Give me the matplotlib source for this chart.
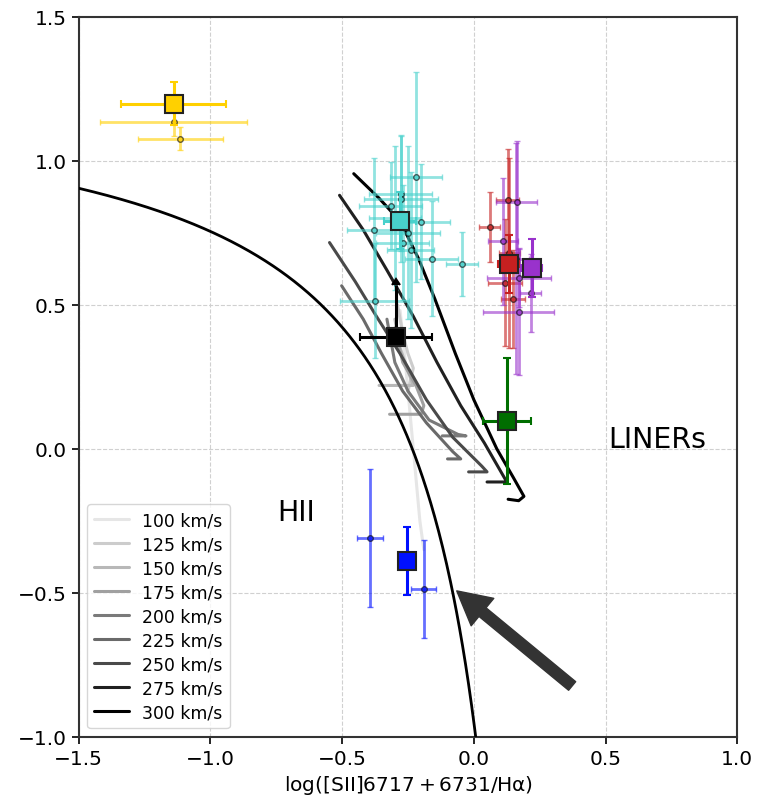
import numpy as np
import matplotlib
matplotlib.use("Agg")
import matplotlib.pyplot as plt

# ---------------- data ----------------
# group means (square markers): x, y, xerr, yerr
grp_names = ["yellow", "cyan", "red", "purple", "green", "blue", "black"]
grp_colors = ["#ffd000", "#48d1cc", "#c62020", "#9932cc", "#006e00", "#0010ff", "#000000"]
grp_x = [-1.14, -0.281, 0.133, 0.22, 0.125, -0.255, -0.297]
grp_y = [1.198, 0.792, 0.642, 0.628, 0.097, -0.389, 0.389]
grp_xerr = [0.20, 0.06, 0.04, 0.04, 0.09, 0.03, 0.137]
grp_yerr = [0.075, 0.10, 0.10, 0.10, 0.22, 0.118, 0.18]

# individual points: x, y, xerr, yerr
yel_x = [-1.14, -1.114]
yel_y = [1.135, 1.076]
yel_xerr = [0.28, 0.16]
yel_yerr = [0.05, 0.04]

cya_x = [-0.22, -0.278, -0.278, -0.316, -0.38, -0.20, -0.27, -0.16, -0.045, -0.377, -0.30, -0.25, -0.24]
cya_y = [0.944, 0.885, 0.868, 0.844, 0.76, 0.788, 0.715, 0.66, 0.642, 0.514, 0.80, 0.75, 0.69]
cya_xerr = [0.10, 0.12, 0.14, 0.12, 0.10, 0.11, 0.10, 0.10, 0.06, 0.13, 0.10, 0.12, 0.09]
cya_yerr = [0.365, 0.20, 0.22, 0.15, 0.25, 0.20, 0.20, 0.20, 0.11, 0.20, 0.25, 0.30, 0.27]

red_x = [0.128, 0.06, 0.118, 0.148, 0.135]
red_y = [0.862, 0.77, 0.576, 0.52, 0.68]
red_xerr = [0.045, 0.04, 0.063, 0.045, 0.04]
red_yerr = [0.18, 0.12, 0.22, 0.17, 0.33]

pur_x = [0.163, 0.11, 0.171, 0.216, 0.171, 0.16]
pur_y = [0.858, 0.72, 0.593, 0.542, 0.476, 0.66]
pur_xerr = [0.078, 0.057, 0.12, 0.04, 0.135, 0.05]
pur_yerr = [0.21, 0.22, 0.10, 0.135, 0.22, 0.40]

blu_x = [-0.395, -0.19]
blu_y = [-0.31, -0.486]
blu_xerr = [0.05, 0.048]
blu_yerr = [0.24, 0.17]

# shock model tracks (one per velocity)
vel_labels = ["100 km/s", "125 km/s", "150 km/s", "175 km/s", "200 km/s",
              "225 km/s", "250 km/s", "275 km/s", "300 km/s"]
vel_colors = ["#e6e6e6", "#cccccc", "#b8b8b8", "#a0a0a0", "#7a7a7a",
              "#6a6a6a", "#4a4a4a", "#202020", "#000000"]
trk_x = [
    [-0.28, -0.26, -0.24, -0.22, -0.205, -0.19],
    [-0.29, -0.27, -0.25, -0.23, -0.24, -0.25],
    [-0.30, -0.28, -0.25, -0.23, -0.29, -0.36],
    [-0.30, -0.27, -0.22, -0.19, -0.20, -0.32],
    [-0.33, -0.30, -0.25, -0.17, -0.06, -0.03, -0.12],
    [-0.502, -0.42, -0.35, -0.27, -0.18, -0.08, -0.05, -0.10],
    [-0.548, -0.45, -0.37, -0.28, -0.18, -0.08, 0.03, 0.05, -0.02],
    [-0.51, -0.42, -0.33, -0.23, -0.14, -0.05, 0.04, 0.125, 0.05],
    [-0.456, -0.36, -0.28, -0.21, -0.148, -0.07, 0.0, 0.087, 0.15, 0.19, 0.17, 0.13],
]
trk_y = [
    [0.48, 0.30, 0.10, -0.10, -0.25, -0.35],
    [0.50, 0.40, 0.33, 0.28, 0.24, 0.20],
    [0.45, 0.35, 0.27, 0.22, 0.22, 0.22],
    [0.42, 0.30, 0.22, 0.15, 0.12, 0.12],
    [0.45, 0.30, 0.20, 0.10, 0.05, 0.045, 0.045],
    [0.566, 0.45, 0.33, 0.20, 0.09, -0.01, -0.035, -0.035],
    [0.716, 0.58, 0.46, 0.33, 0.17, 0.04, -0.06, -0.08, -0.08],
    [0.88, 0.76, 0.62, 0.46, 0.30, 0.15, 0.02, -0.115, -0.115],
    [0.955, 0.87, 0.79, 0.66, 0.52, 0.33, 0.17, 0.0, -0.10, -0.165, -0.18, -0.175],
]

# ---------------- figure ----------------
fig = plt.figure(figsize=(7.57, 8.03), dpi=100)
ax = fig.add_axes([0.104, 0.081, 0.870, 0.897])

ax.grid(True, ls="--", color="#d0d0d0", lw=0.8)
ax.set_axisbelow(True)

# Kewley line
kx = np.linspace(-1.5, 0.01, 400)
ky = 0.72 / (kx - 0.32) + 1.30
ax.plot(kx, ky, color="black", lw=2, zorder=3)

# shock model tracks
for xs, ys, c, lab in zip(trk_x, trk_y, vel_colors, vel_labels):
    ax.plot(xs, ys, color=c, lw=2.2, label=lab, zorder=2, solid_capstyle="round")

def indiv(xs, ys, xe, ye, c):
    ax.errorbar(xs, ys, xerr=xe, yerr=ye, fmt="o", color=c, ecolor=c, alpha=0.6,
                ms=4, mfc=c, mec="black", capsize=2, elinewidth=2, zorder=4)

indiv(yel_x, yel_y, yel_xerr, yel_yerr, grp_colors[0])
indiv(cya_x, cya_y, cya_xerr, cya_yerr, grp_colors[1])
indiv(red_x, red_y, red_xerr, red_yerr, grp_colors[2])
indiv(pur_x, pur_y, pur_xerr, pur_yerr, grp_colors[3])
indiv(blu_x, blu_y, blu_xerr, blu_yerr, grp_colors[5])

for i, name in enumerate(grp_names):
    c = grp_colors[i]
    lol = (name == "black")
    ax.errorbar([grp_x[i]], [grp_y[i]], xerr=[grp_xerr[i]], yerr=[grp_yerr[i]],
                lolims=lol, fmt="s", color=c, ecolor=c, ms=13, mfc=c, mec="#222222",
                mew=1.5, capsize=3, elinewidth=2.2, zorder=6)

ax.annotate("", xy=(-0.065, -0.493), xytext=(0.373, -0.823),
            arrowprops=dict(arrowstyle="simple,head_width=1.6,head_length=1.5,tail_width=0.5",
                            color="#333333", mutation_scale=16, shrinkA=0, shrinkB=0),
            zorder=7)

ax.text(-0.673, -0.219, "HII", fontsize=20.5, ha="center", va="center")
ax.text(0.696, 0.035, "LINERs", fontsize=20.5, ha="center", va="center")

ax.set_xlim(-1.5, 1.0)
ax.set_ylim(-1.0, 1.5)
ax.set_xticks([-1.5, -1.0, -0.5, 0.0, 0.5, 1.0])
ax.set_yticks([-1.0, -0.5, 0.0, 0.5, 1.0, 1.5])
ax.tick_params(labelsize=14.5, width=1.2, length=5)
for s in ax.spines.values():
    s.set_linewidth(1.5)
    s.set_color("#333333")
ax.set_xlabel(r"$\mathrm{log([SII]6717+6731/H\alpha)}$", fontsize=14.5, labelpad=4)

ax.legend(loc="lower left", fontsize=12.4, handlelength=2, labelspacing=0.35,
          framealpha=0.8)

fig.savefig("out.png", dpi=100)
